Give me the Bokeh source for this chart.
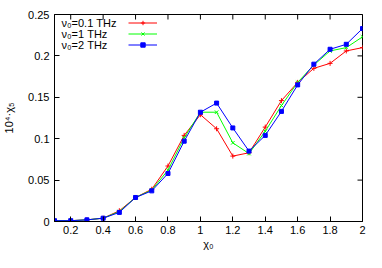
from bokeh.plotting import figure
from bokeh.models import (Range1d, FixedTicker, Legend, LegendItem,
                          Label, PrintfTickFormatter)
from bokeh.embed import file_html
from bokeh.resources import INLINE
import math

chi0 = [0.1, 0.2, 0.3, 0.4, 0.5, 0.6, 0.7, 0.8, 0.9, 1.0,
        1.1, 1.2, 1.3, 1.4, 1.5, 1.6, 1.7, 1.8, 1.9, 2.0]
chi5_nu01 = [0.001, 0.001, 0.002, 0.004, 0.013, 0.029, 0.039, 0.067, 0.104, 0.129,
             0.112, 0.079, 0.083, 0.114, 0.146, 0.168, 0.185, 0.191, 0.206, 0.210]
chi5_nu1 = [0.001, 0.001, 0.002, 0.004, 0.012, 0.029, 0.038, 0.062, 0.101, 0.132,
            0.132, 0.095, 0.082, 0.109, 0.140, 0.168, 0.189, 0.206, 0.210, 0.223]
chi5_nu2 = [0.001, 0.001, 0.002, 0.004, 0.011, 0.029, 0.037, 0.058, 0.097, 0.132,
            0.143, 0.113, 0.085, 0.104, 0.133, 0.165, 0.190, 0.208, 0.214, 0.233]
series_labels = ["\u03bd\u2080=0.1 THz", "\u03bd\u2080=1 THz", "\u03bd\u2080=2 THz"]
x_ticks = [0.2, 0.4, 0.6, 0.8, 1.0, 1.2, 1.4, 1.6, 1.8, 2.0]
y_ticks = [0, 0.05, 0.1, 0.15, 0.2, 0.25]
x_min, x_max = 0.1, 2.0
y_min, y_max = 0.0, 0.25
x_title = "\u03c7\u2080"
y_title = "10\u2074\u00b7\u03c7\u2085"

FONT = "Liberation Sans"
FS = "11px"

p = figure(width=366, height=252, output_backend="svg", toolbar_location=None,
           x_range=Range1d(x_min, x_max), y_range=Range1d(y_min, y_max),
           min_border_left=54, min_border_right=4, min_border_top=14, min_border_bottom=31,
           background_fill_color="white", border_fill_color="white")
p.outline_line_color = "black"
p.outline_line_width = 1
p.xgrid.visible = False
p.ygrid.visible = False

for ax, ticks in ((p.xaxis[0], x_ticks), (p.yaxis[0], y_ticks)):
    ax.ticker = FixedTicker(ticks=ticks)
    ax.formatter = PrintfTickFormatter(format="%g")
    ax.major_tick_in = 5
    ax.major_tick_out = 0
    ax.minor_tick_line_color = None
    ax.major_tick_line_color = "black"
    ax.axis_line_color = "black"
    ax.major_label_text_font = FONT
    ax.major_label_text_font_size = FS
    ax.major_label_text_color = "black"
    ax.axis_label_text_font = FONT
    ax.axis_label_text_font_size = FS
    ax.axis_label_text_font_style = "normal"
    ax.axis_label_text_color = "black"

p.xaxis.axis_label = x_title
p.yaxis.axis_label = y_title
p.xaxis.major_label_standoff = 4
p.xaxis.axis_label_standoff = 1
p.yaxis.major_label_standoff = 5
p.yaxis.axis_label_standoff = 10

# mirrored ticks on top and right edges (gnuplot style)
p.scatter(x_ticks, [y_max] * len(x_ticks), marker="dash", angle=math.pi / 2,
          size=10, line_color="black", line_width=1)
p.scatter([x_max] * len(y_ticks), y_ticks, marker="dash",
          size=10, line_color="black", line_width=1)

colors = ["#ff0000", "#00ff00", "#0000ff"]
markers = ["cross", "x", "square"]
items = []
for ys, c, m in zip([chi5_nu01, chi5_nu1, chi5_nu2], colors, markers):
    ln = p.line(chi0, ys, line_color=c, line_width=1)
    if m == "square":
        sc = p.scatter(chi0, ys, marker=m, size=4, fill_color=c, line_color=c, line_width=1)
    else:
        sc = p.scatter(chi0, ys, marker=m, size=5, line_color=c, line_width=1)
    items.append(LegendItem(label=" ", renderers=[ln, sc]))

legend = Legend(items=items, location=(74, 171), orientation="vertical",
                glyph_width=29, glyph_height=11, label_height=11, label_width=1,
                label_text_font_size="6px", spacing=0, padding=0, margin=0,
                label_standoff=0, background_fill_alpha=0, border_line_alpha=0)
p.add_layout(legend, "center")

for i, txt in enumerate(series_labels):
    p.add_layout(Label(x=7, y=198.5 - 11 * i, x_units="screen", y_units="screen",
                       text=txt, text_font=FONT, text_font_size=FS,
                       text_baseline="middle", text_color="black"))

open("out.html", "w").write(file_html(p, INLINE))
